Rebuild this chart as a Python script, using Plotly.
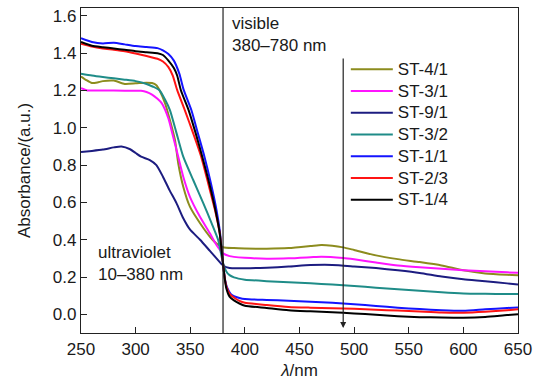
import plotly.graph_objects as go

# ---- data ----
names = ["ST-4/1", "ST-3/1", "ST-9/1", "ST-3/2", "ST-1/1", "ST-2/3", "ST-1/4"]
colors = ["#8c8c1e", "#ff14ff", "#1c1c80", "#1f8c88", "#1414ff", "#ff1414", "#000000"]

x_st41 = [250, 255, 260, 265, 270, 280, 290, 300, 310, 315, 319, 322, 327, 331, 336, 339, 343.6, 349.7, 359, 368, 374, 380,
          390, 400, 420, 440, 460, 470, 480, 490, 500, 520, 540, 560, 580, 600, 620, 640, 650]
y_st41 = [1.275, 1.255, 1.24, 1.243, 1.25, 1.253, 1.235, 1.238, 1.242, 1.24, 1.228, 1.2, 1.13, 1.05, 0.935, 0.81, 0.684, 0.577, 0.488, 0.416, 0.38, 0.36,
          0.355, 0.353, 0.352, 0.355, 0.366, 0.372, 0.368, 0.359, 0.345, 0.316, 0.296, 0.28, 0.262, 0.236, 0.219, 0.212, 0.21]

x_st31 = [250, 256, 270, 290, 305, 310, 315, 320, 324, 330, 334, 339, 343.6, 349.7, 358.9, 368, 374, 380, 386, 390, 400, 420, 440, 460, 470,
          490, 500, 520, 540, 560, 580, 600, 620, 640, 650]
y_st31 = [1.212, 1.2, 1.2, 1.199, 1.198, 1.192, 1.178, 1.155, 1.131, 1.05, 0.96, 0.845, 0.738, 0.63, 0.523, 0.434, 0.372, 0.327, 0.312, 0.308, 0.303, 0.298, 0.3, 0.306, 0.309,
          0.302, 0.295, 0.278, 0.262, 0.252, 0.244, 0.237, 0.231, 0.225, 0.223]

x_st91 = [250, 260, 270, 280, 287, 295, 300, 305, 313, 319, 325, 331, 337.5, 343.6, 349.7, 359, 368, 374, 380,
          386, 400, 420, 440, 460, 480, 500, 520, 540, 560, 580, 600, 620, 640, 650]
y_st91 = [0.87, 0.876, 0.883, 0.895, 0.9, 0.885, 0.865, 0.845, 0.827, 0.80, 0.738, 0.666, 0.595, 0.515, 0.455, 0.40, 0.34, 0.30, 0.262,
          0.248, 0.247, 0.25, 0.256, 0.264, 0.265, 0.257, 0.248, 0.236, 0.222, 0.203, 0.188, 0.178, 0.166, 0.16]

x_st32 = [250, 260, 270, 280, 290, 300, 310, 316, 322, 327, 331.4, 337.5, 343.6, 352.7, 362, 369.6, 375.6, 378, 380, 383, 386, 390, 400,
          420, 440, 460, 480, 500, 520, 540, 560, 580, 600, 620, 640, 650]
y_st32 = [1.29, 1.28, 1.272, 1.265, 1.258, 1.25, 1.235, 1.22, 1.2, 1.15, 1.095, 0.97, 0.845, 0.72, 0.595, 0.488, 0.398, 0.33, 0.275, 0.23, 0.21, 0.198, 0.186,
          0.178, 0.172, 0.166, 0.16, 0.152, 0.143, 0.134, 0.126, 0.118, 0.112, 0.11, 0.109, 0.109]

x_st11 = [250, 260, 270, 280, 290, 300, 310, 320, 325, 330, 335, 340, 344, 351, 357, 363, 369, 374, 377, 379, 380, 382, 384, 387,
          390, 395, 400, 420, 440, 460, 480, 500, 520, 540, 560, 580, 600, 620, 640, 650]
y_st11 = [1.48, 1.46, 1.452, 1.456, 1.447, 1.438, 1.433, 1.427, 1.415, 1.395, 1.36, 1.29, 1.203, 1.095, 0.97, 0.845, 0.70, 0.56, 0.45, 0.33, 0.27, 0.18, 0.14, 0.11,
          0.098, 0.088, 0.082, 0.077, 0.073, 0.068, 0.062, 0.054, 0.045, 0.036, 0.028, 0.022, 0.019, 0.027, 0.034, 0.037]

x_st23 = [250, 260, 270, 280, 290, 300, 310, 320, 325, 330, 334, 338, 345, 352.7, 360, 366.5, 372.6, 377, 379.5, 381, 383, 386,
          390, 395, 400, 420, 440, 460, 480, 500, 520, 540, 560, 580, 600, 620, 640, 650]
y_st23 = [1.45, 1.435, 1.425, 1.418, 1.41, 1.398, 1.385, 1.37, 1.355, 1.325, 1.28, 1.203, 1.095, 0.97, 0.845, 0.70, 0.56, 0.434, 0.30, 0.22, 0.15, 0.11,
          0.09, 0.072, 0.062, 0.05, 0.04, 0.036, 0.033, 0.03, 0.025, 0.02, 0.015, 0.01, 0.009, 0.014, 0.022, 0.027]

x_st14 = [250, 260, 270, 280, 290, 300, 310, 320, 325, 330, 335, 338, 341.5, 348.5, 355, 361, 367.5, 373, 377, 379.5, 381, 383, 386,
          390, 395, 400, 420, 440, 460, 480, 500, 520, 540, 560, 580, 600, 620, 640, 650]
y_st14 = [1.46, 1.44, 1.432, 1.425, 1.418, 1.41, 1.405, 1.4, 1.39, 1.36, 1.32, 1.28, 1.2, 1.095, 0.97, 0.845, 0.70, 0.56, 0.434, 0.30, 0.22, 0.14, 0.095,
          0.075, 0.058, 0.046, 0.034, 0.022, 0.016, 0.011, 0.005, -0.002, -0.01, -0.015, -0.017, -0.018, -0.014, -0.004, 0.0]

xs = [x_st41, x_st31, x_st91, x_st32, x_st11, x_st23, x_st14]
ys = [y_st41, y_st31, y_st91, y_st32, y_st11, y_st23, y_st14]

x_ticks = [250, 300, 350, 400, 450, 500, 550, 600, 650]
y_ticks = [0.0, 0.2, 0.4, 0.6, 0.8, 1.0, 1.2, 1.4, 1.6]

FONT = "Liberation Sans, Arial, sans-serif"
TXT = "#1a1a1a"

fig = go.Figure()
for n, c, x, y in zip(names, colors, xs, ys):
    fig.add_trace(go.Scatter(x=x, y=y, name=f"<span style='font-size:17px'>{n}</span>", mode="lines",
                             line=dict(color=c, width=2, shape="spline", smoothing=0.6)))

fig.add_shape(type="line", xref="x", yref="paper", x0=380, x1=380, y0=0, y1=1,
              line=dict(color="#222", width=1.2))

fig.add_annotation(x=490, y=-0.073, ax=490, ay=1.38, xref="x", yref="y", axref="x", ayref="y",
                   showarrow=True, arrowhead=2, arrowsize=1, arrowwidth=1.2, arrowcolor="#222", text="")

fig.add_annotation(x=386.5, y=1.50, xref="x", yref="y", xanchor="left", yanchor="middle",
                   text="visible<br>380\u2013780 nm", showarrow=False, align="left",
                   font=dict(family=FONT, size=17, color=TXT))
fig.add_annotation(x=263.5, y=0.275, xref="x", yref="y", xanchor="left", yanchor="middle",
                   text="ultraviolet<br>10\u2013380 nm", showarrow=False, align="left",
                   font=dict(family=FONT, size=17, color=TXT))

axis_common = dict(showline=True, linecolor="#222", linewidth=1.3, mirror=True,
                   ticks="inside", ticklen=6, tickwidth=1.3, tickcolor="#222",
                   showgrid=False, zeroline=False,
                   tickfont=dict(family=FONT, size=17, color=TXT))

fig.update_layout(
    width=539, height=384,
    margin=dict(l=81, r=21, t=8, b=51),
    plot_bgcolor="white", paper_bgcolor="white",
    showlegend=True,
    legend=dict(x=0.606, y=0.86, xanchor="left", yanchor="top",
                bgcolor="rgba(0,0,0,0)", font=dict(family=FONT, size=14.4, color=TXT),
                tracegroupgap=0, itemwidth=42),
    xaxis=dict(range=[250, 650], tickvals=x_ticks, ticktext=[str(v) for v in x_ticks],
               title=dict(text="<i>\u03bb</i>/nm", font=dict(family=FONT, size=17, color=TXT), standoff=6),
               **axis_common),
    yaxis=dict(range=[-0.1, 1.642], tickvals=y_ticks, ticktext=[f"{v:.1f}" for v in y_ticks],
               title=dict(text="Absorbance/(a.u.)", font=dict(family=FONT, size=17, color=TXT), standoff=17),
               **axis_common),
)

fig.write_html("out.html")
